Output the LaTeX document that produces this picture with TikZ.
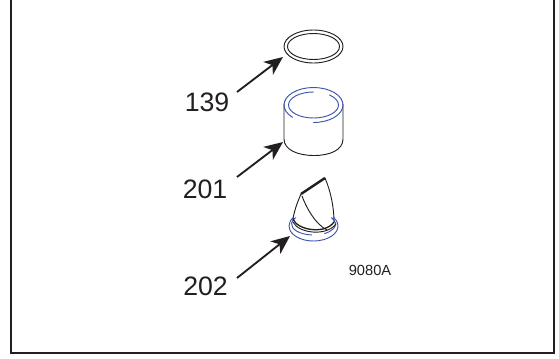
\documentclass[tikz,border=0pt]{standalone}
\usepackage{fontspec}
\setmainfont{Liberation Sans}
\usetikzlibrary{arrows.meta}
\definecolor{partblue}{RGB}{62,84,170}
\definecolor{ink}{RGB}{35,31,32}
\tikzset{
  x=0.75pt,y=-0.75pt,
  frameline/.style={draw=ink,line width=1.6pt},
  part/.style={draw=ink,line width=0.7pt,line cap=round,line join=round},
  heavypart/.style={draw=ink,line width=1pt,line cap=round},
  bluepart/.style={draw=partblue,line width=0.7pt,line cap=round},
  callout/.style={font=\fontsize{20}{20}\selectfont,text=ink,inner sep=0pt},
  pointer/.style={draw=ink,line width=1.4pt,-{Stealth[length=14pt,width=12pt,inset=4pt]}},
}
\begin{document}
\begin{tikzpicture}
\useasboundingbox (0,0) rectangle (559,358);
\draw[frameline] (11,0) -- (11,353) -- (554,353) -- (554,0);
% ring 139
\draw[part] (313.5,46.5) ellipse [x radius=29.5,y radius=16.5];
\draw[part] (313.5,46.5) ellipse [x radius=26,y radius=13];
% sleeve 201
\draw[part] (284,104) -- (284,139) .. controls (284,150) and (298,155.5) .. (314,155.5) .. controls (330,155.5) and (343,150) .. (343,139) -- (343,104);
\draw[bluepart] ([shift={(135:29.5 and 17.5)}]313.5,105) arc [start angle=135,end angle=450,x radius=29.5,y radius=17.5];
\draw[bluepart] ([shift={(270:25 and 13)}]313.5,105) arc [start angle=270,end angle=-50,x radius=25,y radius=13];
% valve 202
\coordinate (tipA) at (301,194);
\coordinate (tipB) at (325,178);
\draw[draw=ink,line width=1.8pt] (tipA) -- (tipB);
\draw[part] (tipA) .. controls (297,203) and (294,212) .. (293,219);
\draw[part] (tipB) .. controls (331,192) and (334,208) .. (334,222);
\draw[part] (302,196) .. controls (306,207) and (315,224) .. (327,230);
\draw[bluepart] ([shift={(-35:24.5 and 15)}]313.5,226) arc [start angle=-35,end angle=215,x radius=24.5,y radius=15];
\draw[bluepart] ([shift={(95:22 and 11)}]313.5,224) arc [start angle=95,end angle=215,x radius=22,y radius=11];
\draw[bluepart] ([shift={(-35:22 and 11)}]313.5,224) arc [start angle=-35,end angle=60,x radius=22,y radius=11];
\draw[heavypart] (293,219) .. controls (297,230) and (325,235) .. (334,222);
\draw[part] (293,222) .. controls (298,233) and (326,237) .. (336,224);
% labels and arrows
\node[callout] (n139) at (207,102) {139};
\node[callout] (n201) at (205,189) {201};
\node[callout] (n202) at (205.5,286) {202};
\coordinate (a139) at (283,57);
\coordinate (a201) at (283,142);
\coordinate (a202) at (290,236);
\coordinate (t139) at (237,92);
\coordinate (t201) at (237,177);
\coordinate (t202) at (237,278);
\draw[pointer] (t139) -- (a139);
\draw[pointer] (t201) -- (a201);
\draw[pointer] (t202) -- (a202);
\node[font=\fontsize{11}{11}\selectfont,text=ink,inner sep=0pt] (code) at (370,270) {9080A};
\end{tikzpicture}
\end{document}
